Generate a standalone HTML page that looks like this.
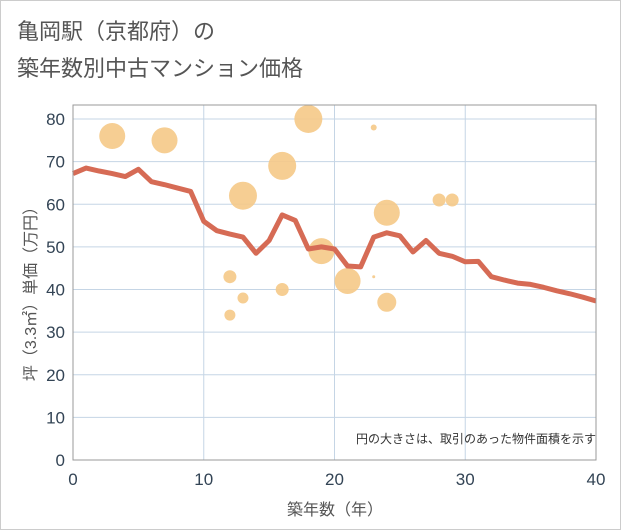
<!DOCTYPE html>
<html><head><meta charset="utf-8"><style>
body{margin:0;background:#fff;}
svg{display:block;font-family:"Liberation Sans","Noto Sans CJK JP",sans-serif;}
</style></head><body>
<svg width="621" height="530">
<rect x="0.5" y="0.5" width="620" height="529" fill="#fff" stroke="#ccc"/>
<text x="17" y="39" font-size="22" fill="#555">亀岡駅（京都府）の</text>
<text x="17" y="76" font-size="22" fill="#555">築年数別中古マンション価格</text>
<g id="grid"></g>
<g id="bubbles"></g>
<g id="line"></g>
<g id="axes"></g>
<text x="596" y="443" font-size="12" fill="#333" text-anchor="end">円の大きさは、取引のあった物件面積を示す</text>
<text x="335" y="515" font-size="16" fill="#555" text-anchor="middle">築年数（年）</text>
<text transform="translate(36,290) rotate(-90)" font-size="16" fill="#555" text-anchor="middle">坪（3.3㎡）単価（万円）</text>
</svg>
<script>
const xTicks=[0,10,20,30,40];
const yTicks=[0,10,20,30,40,50,60,70,80];
const lineYears=[0,1,2,3,4,5,6,7,8,9,10,11,12,13,14,15,16,17,18,19,20,21,22,23,24,25,26,27,28,29,30,31,32,33,34,35,36,37,38,39,40];
const lineValues=[67.2,68.5,67.8,67.2,66.5,68.2,65.3,64.6,63.8,63,56,53.8,53,52.3,48.5,51.5,57.5,56.2,49.5,50,49.5,45.5,45.3,52.3,53.3,52.6,48.8,51.5,48.5,47.8,46.5,46.6,43,42.2,41.5,41.2,40.5,39.7,39,38.2,37.3];
const bubbleX=[3,7,13,16,18,19,21,24,24,12,13,12,16,23,23,28,29];
const bubbleY=[76,75,62,69,80,49,42,58,37,43,38,34,40,78,43,61,61];
const bubbleR=[13,13,14,14,14,13,13,13,9.5,6.5,5.5,5.5,6.5,3,1.5,6.5,6.5];
const NS='http://www.w3.org/2000/svg';
const X0=73,X1=596,Y0=460,Y1=105;
const xs=v=>X0+(X1-X0)*v/40;
const ys=v=>Y0-(Y0-119)*v/80;
function mk(tag,attrs,parent){const e=document.createElementNS(NS,tag);for(const k in attrs)e.setAttribute(k,attrs[k]);parent.appendChild(e);return e;}
const grid=document.getElementById('grid'),axes=document.getElementById('axes');
yTicks.forEach(t=>{const l=mk('line',{x1:X0,x2:X1,y1:ys(t),y2:ys(t),stroke:'#c5d5e5','stroke-width':1},grid);


const tx=mk('text',{x:X0-8,y:ys(t)+6,'font-size':17,fill:'#334455','text-anchor':'end'},axes);tx.textContent=t;

});
xTicks.forEach(t=>{const l=mk('line',{x1:xs(t),x2:xs(t),y1:Y1,y2:Y0,stroke:'#c5d5e5','stroke-width':1},grid);


const tx=mk('text',{x:xs(t),y:Y0+25,'font-size':17,fill:'#334455','text-anchor':'middle'},axes);tx.textContent=t;

});
const fr=mk('rect',{x:X0,y:Y1,width:X1-X0,height:Y0-Y1,fill:'none',stroke:'#999','stroke-width':1},axes);


const bg=document.getElementById('bubbles');
bubbleX.forEach((x,i)=>{const c=mk('circle',{cx:xs(x),cy:ys(bubbleY[i]),r:bubbleR[i],fill:'#f5c987','fill-opacity':0.9},bg);

});
const p=mk('polyline',{points:lineYears.map((x,i)=>xs(x)+','+ys(lineValues[i])).join(' '),fill:'none',stroke:'#d66b55','stroke-width':5,'stroke-linejoin':'round'},document.getElementById('line'));


</script>
</body></html>
